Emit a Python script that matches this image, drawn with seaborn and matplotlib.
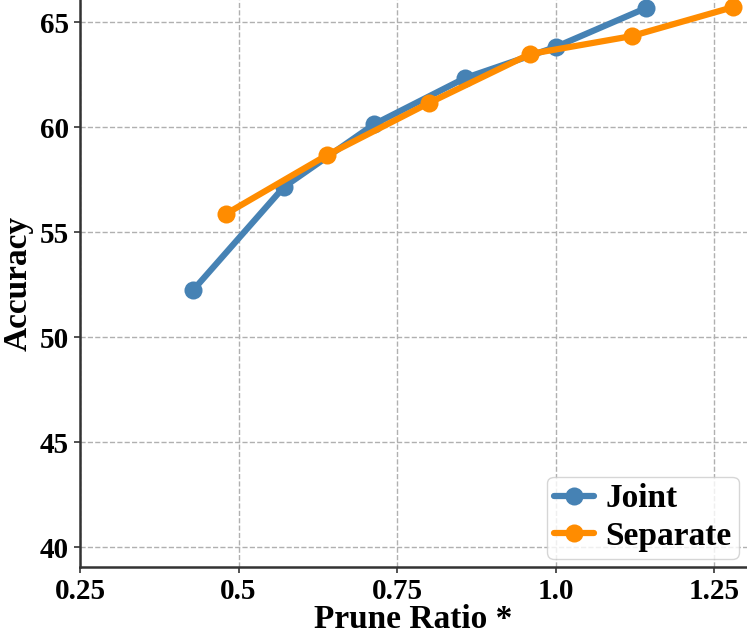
import pandas as pd
import matplotlib
matplotlib.use("Agg")
import matplotlib.pyplot as plt
import seaborn as sns

# values
joint_ratio = [0.4286, 0.5714, 0.7143, 0.8571, 1.0, 1.1429]
joint_acc = [52.24, 57.14, 60.14, 62.33, 63.81, 65.67]
separate_ratio = [0.48, 0.64, 0.80, 0.96, 1.12, 1.28]
separate_acc = [55.86, 58.67, 61.14, 63.48, 64.33, 65.71]

x_ticks = [0.25, 0.5, 0.75, 1.0, 1.25]
x_tick_labels = ["0.25", "0.5", "0.75", "1.0", "1.25"]
y_ticks = [40, 45, 50, 55, 60, 65]

df = pd.concat([
    pd.DataFrame({"ratio": joint_ratio, "acc": joint_acc, "method": "Joint"}),
    pd.DataFrame({"ratio": separate_ratio, "acc": separate_acc, "method": "Separate"}),
], ignore_index=True)

sns.set_style("ticks")
plt.rcParams["font.family"] = ["Liberation Serif", "DejaVu Serif"]
plt.rcParams["font.weight"] = "bold"
plt.rcParams["text.color"] = "black"
plt.rcParams["axes.labelcolor"] = "black"
plt.rcParams["xtick.color"] = "black"
plt.rcParams["ytick.color"] = "black"

fig = plt.figure(figsize=(7.47, 6.37), dpi=100)
ax = fig.add_axes([0.1071, 0.1099, 0.8929, 0.8901])

palette = {"Joint": "#4682B4", "Separate": "#FF8C00"}
sns.lineplot(data=df, x="ratio", y="acc", hue="method", palette=palette,
             marker="o", markersize=13, markeredgewidth=0, linewidth=4.5,
             sort=False, ax=ax)

ax.set_xlim(0.25, 1.302)
ax.set_ylim(39.05, 66.05)
ax.set_xticks(x_ticks)
ax.set_xticklabels(x_tick_labels)
ax.set_yticks(y_ticks)
ax.tick_params(axis="both", labelsize=21, length=4, width=1.2, color="#333333",
               labelcolor="black", pad=4)
for lab in ax.get_xticklabels() + ax.get_yticklabels():
    lab.set_fontweight("bold")

ax.set_xlabel("Prune Ratio *", fontsize=24, fontweight="bold", color="black", labelpad=-1)
ax.set_ylabel("Accuracy", fontsize=24, fontweight="bold", color="black", labelpad=4)

ax.grid(True, linestyle="--", color="#b0b0b0", linewidth=1)
sns.despine(ax=ax)
for s in ["left", "bottom"]:
    ax.spines[s].set_color("#333333")
    ax.spines[s].set_linewidth(1.8)

handles, labels = ax.get_legend_handles_labels()
leg = ax.legend(handles, labels, loc="lower right", prop={"weight": "bold", "size": 24},
                handlelength=1.2, handletextpad=0.35, labelspacing=0.2, borderpad=0.2,
                borderaxespad=0.25, frameon=True, edgecolor="#cccccc", framealpha=0.8)
for t in leg.get_texts():
    t.set_color("black")

fig.savefig("out.png", dpi=100)
